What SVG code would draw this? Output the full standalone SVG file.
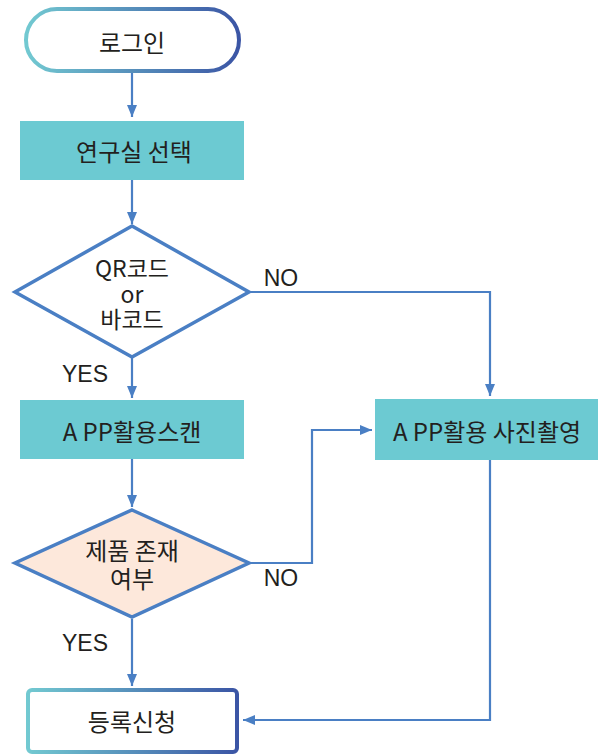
<svg xmlns="http://www.w3.org/2000/svg" width="603" height="755" viewBox="0 0 603 755">
<defs>
<linearGradient id="g" x1="0" y1="0" x2="1" y2="0">
<stop offset="0" stop-color="#72c9d1"/>
<stop offset="1" stop-color="#3b55a5"/>
</linearGradient>
<marker id="ah" markerWidth="12" markerHeight="10" refX="12" refY="5" orient="auto" markerUnits="userSpaceOnUse">
<path d="M0,0 L12,5 L0,10 Z" fill="#4a7fc4"/>
</marker>
<style>
.t{font-family:"Noto Sans CJK KR","Noto Sans",sans-serif;font-size:24px;fill:#231f20;text-anchor:middle;dominant-baseline:central}
.d{font-size:23px}
.l{font-family:"Liberation Sans",Arial,sans-serif;font-size:23px;fill:#231f20;text-anchor:middle;dominant-baseline:central}
.box{fill:#6ccad2}
.dia{stroke:#4a7fc4;stroke-width:3.5;stroke-linejoin:miter}
.c{fill:none;stroke:#4a7fc4;stroke-width:2.2;marker-end:url(#ah)}
</style>
</defs>
<g id="connectors">
<path class="c" d="M132,73 V117"/>
<path class="c" d="M132,180 V224"/>
<path class="c" d="M250,292 H490 V396"/>
<path class="c" d="M132,358 V398"/>
<path class="c" d="M132,459 V507"/>
<path class="c" d="M250,563 H312 V430 H372"/>
<path class="c" d="M132,619 V686"/>
<path class="c" d="M490,460 V720 H243"/>
<text class="l" x="281" y="278">NO</text>
<text class="l" x="85" y="374">YES</text>
<text class="l" x="281" y="578">NO</text>
<text class="l" x="85" y="643">YES</text>
</g>
<g id="login">
<rect x="26" y="9" width="213" height="62" rx="31" fill="#fff" stroke="url(#g)" stroke-width="4"/>
<text class="t" x="132" y="41">로그인</text>
</g>
<g id="lab">
<rect class="box" x="20" y="121" width="224" height="59"/>
<text class="t" x="134" y="150">연구실 선택</text>
</g>
<g id="qr">
<path class="dia" d="M132,226 L249,292 L132,357 L15,292 Z" fill="#fff"/>
<text class="t d"><tspan x="132" y="267">QR코드</tspan><tspan x="132" y="293">or</tspan><tspan x="132" y="318">바코드</tspan></text>
</g>
<g id="scan">
<rect class="box" x="20" y="400" width="224" height="59"/>
<text class="t" x="132" y="430">A PP활용스캔</text>
</g>
<g id="photo">
<rect class="box" x="375" y="399" width="223" height="61"/>
<text class="t" x="487" y="430">A PP활용 사진촬영</text>
</g>
<g id="exist">
<path class="dia" d="M132,510 L249,563 L132,617 L15,563 Z" fill="#fde8db"/>
<text class="t"><tspan x="132" y="549">제품 존재</tspan><tspan x="132" y="577">여부</tspan></text>
</g>
<g id="register">
<rect x="28" y="690" width="209" height="62" rx="4" fill="#fff" stroke="url(#g)" stroke-width="4"/>
<text class="t" x="132" y="720">등록신청</text>
</g>
</svg>
